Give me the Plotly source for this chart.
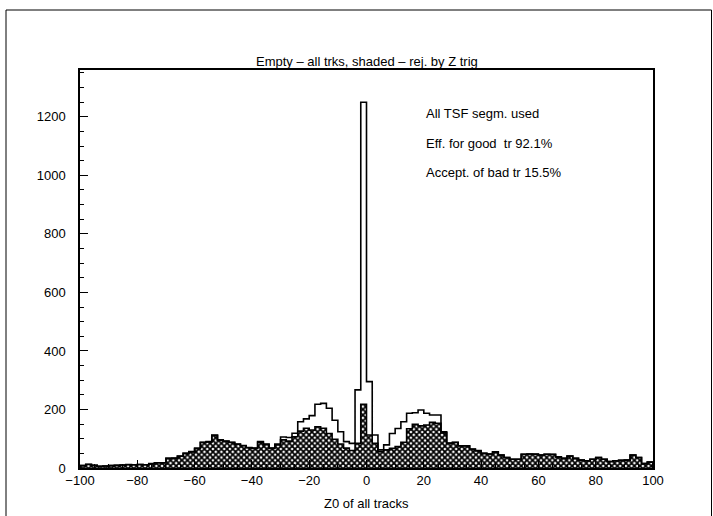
import plotly.graph_objects as go

# ---- data (2-unit bins from -100 to 100) ----
bin_lo = -100
bin_width = 2
all_tracks = [
    8, 13, 9, 6, 7, 8, 9, 10, 12, 11,
    12, 11, 15, 18, 18, 33, 34, 41, 50, 56,
    68, 88, 90, 113, 96, 92, 88, 82, 77, 70,
    68, 90, 82, 68, 82, 106, 104, 119, 158, 168,
    179, 218, 221, 204, 163, 124, 90, 84, 267, 1250,
    295, 113, 62, 79, 118, 135, 158, 187, 189, 198,
    187, 181, 181, 124, 85, 88, 76, 76, 65, 60,
    50, 48, 55, 44, 36, 30, 30, 47, 48, 48,
    44, 47, 47, 38, 33, 41, 33, 27, 25, 30,
    36, 30, 22, 25, 26, 27, 44, 36, 15, 20,
]
rejected = [
    8, 12, 9, 6, 7, 8, 9, 10, 11, 11,
    12, 11, 14, 18, 17, 33, 33, 40, 50, 55,
    66, 87, 89, 111, 95, 91, 87, 81, 76, 69,
    67, 88, 80, 67, 79, 96, 92, 107, 126, 136,
    130, 141, 136, 118, 98, 82, 68, 60, 84, 218,
    113, 84, 56, 62, 67, 73, 88, 134, 149, 144,
    147, 156, 153, 120, 84, 87, 75, 75, 64, 58,
    50, 48, 54, 44, 36, 30, 30, 47, 48, 47,
    44, 47, 46, 38, 33, 41, 33, 27, 25, 30,
    36, 30, 22, 25, 26, 27, 44, 36, 15, 20,
]
x_ticks = [-100, -80, -60, -40, -20, 0, 20, 40, 60, 80, 100]
y_ticks = [0, 200, 400, 600, 800, 1000, 1200]
title_text = "Empty \u2013 all trks, shaded \u2013 rej. by Z trig"
x_title = "Z0 of all tracks"
notes = ["All TSF segm. used", "Eff. for good  tr 92.1%", "Accept. of bad tr 15.5%"]
note_y = [1210, 1110, 1010]
note_x = 20

n = len(all_tracks)
edges = [bin_lo + i * bin_width for i in range(n + 1)]
centers = [bin_lo + (i + 0.5) * bin_width for i in range(n)]


def step(vals):
    xs = [edges[0]] + edges + [edges[-1]]
    ys = [0] + list(vals) + [vals[-1], 0]
    return xs, ys


FONT = "Liberation Sans, Arial, sans-serif"

fig = go.Figure()
fig.add_trace(go.Bar(
    x=centers, y=rejected, width=bin_width,
    marker=dict(color="white", line=dict(width=0),
                pattern=dict(shape="x", fgcolor="black", bgcolor="white",
                             size=4, solidity=0.7, fillmode="replace")),
    showlegend=False, hoverinfo="skip",
))
sx, sy = step(rejected)
fig.add_trace(go.Scatter(x=sx, y=sy, mode="lines", line=dict(color="black", width=1.6, shape="hv"),
                         showlegend=False, hoverinfo="skip"))
ax, ay = step(all_tracks)
fig.add_trace(go.Scatter(x=ax, y=ay, mode="lines", line=dict(color="black", width=1.6, shape="hv"),
                         showlegend=False, hoverinfo="skip"))

for t, yv in zip(notes, note_y):
    fig.add_annotation(x=note_x, y=yv, xref="x", yref="y", text=t, showarrow=False,
                       xanchor="left", yanchor="middle", font=dict(size=13, color="black", family=FONT))

L, R, T, B = 80, 60, 70, 48
W, H = 713, 516
pw, ph = W - L - R, H - T - B

fig.add_annotation(x=0.5, y=(ph + 8) / ph, xref="paper", yref="paper", text=title_text, showarrow=False,
                   xanchor="center", yanchor="middle", font=dict(size=13, color="black", family=FONT))
fig.add_annotation(x=0.5, y=-35 / ph, xref="paper", yref="paper", text=x_title, showarrow=False,
                   xanchor="center", yanchor="middle", font=dict(size=13, color="black", family=FONT))

# outer page border
fig.add_shape(type="rect", xref="paper", yref="paper",
              x0=(6 - L) / pw, x1=(711.5 - L) / pw, y0=-(B + 20) / ph, y1=(ph + T - 10) / ph,
              line=dict(color="black", width=1), fillcolor="rgba(0,0,0,0)", layer="above")

fig.update_layout(
    width=W, height=H, margin=dict(l=L, r=R, t=T, b=B),
    paper_bgcolor="white", plot_bgcolor="white",
    bargap=0, barmode="overlay",
    font=dict(family=FONT, size=13, color="black"),
    xaxis=dict(range=[-100, 100], tickvals=x_ticks, ticks="inside", ticklen=8, tickwidth=1,
               tickcolor="black", showgrid=False, zeroline=False, showline=True, linecolor="black",
               linewidth=1.5, mirror=True,
               minor=dict(dtick=5, ticks="inside", ticklen=4, tickcolor="black", showgrid=False),
               tickfont=dict(size=13, family=FONT)),
    yaxis=dict(range=[0, 1360], tickvals=y_ticks, ticks="inside", ticklen=8, tickwidth=1,
               tickcolor="black", showgrid=False, zeroline=False, showline=True, linecolor="black",
               linewidth=1.5, mirror=True,
               minor=dict(dtick=50, ticks="inside", ticklen=4, tickcolor="black", showgrid=False),
               tickfont=dict(size=13, family=FONT), ticklabelstandoff=10),
)

fig.write_html("out.html")
